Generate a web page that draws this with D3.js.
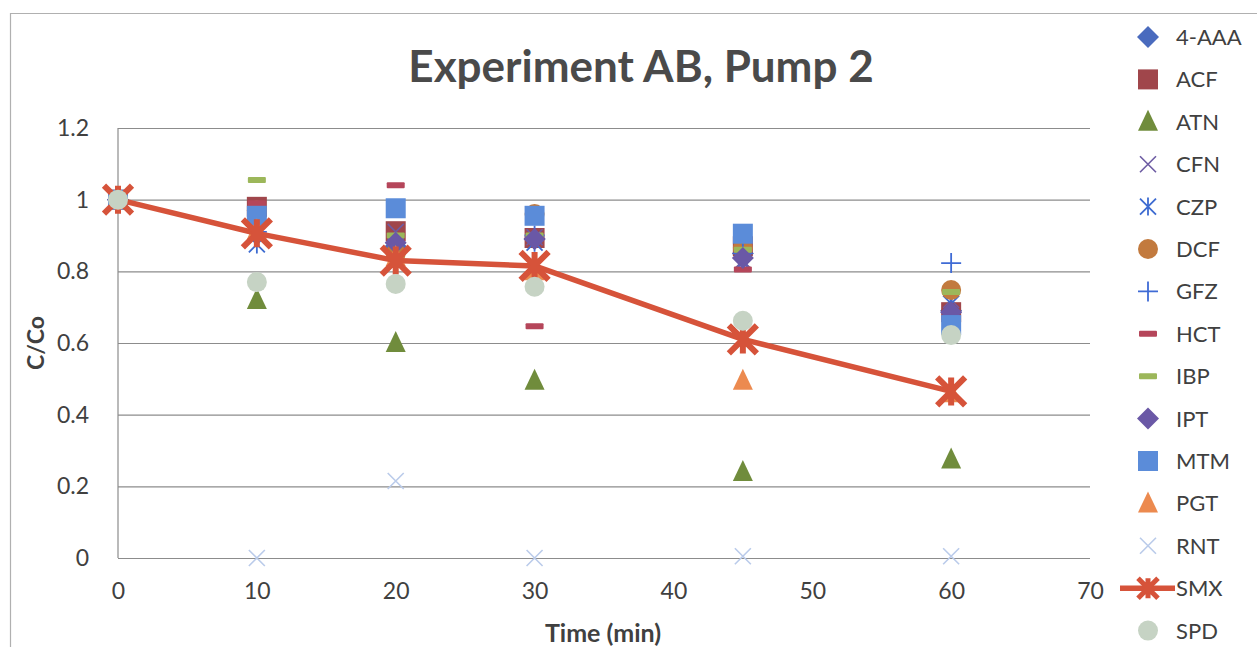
<!DOCTYPE html>
<html>
<head>
<meta charset="utf-8">
<script src="https://cdn.jsdelivr.net/npm/d3@7"></script>
<style>
  html, body { margin: 0; padding: 0; background: #fff; }
  svg { display: block; font-family: Lato, "Open Sans", sans-serif; }
</style>
</head>
<body>
<svg id="chart" width="1257" height="647"></svg>
<script>
// Sampling times (min)
const times = [0, 10, 20, 30, 45, 60];

// C/Co for each compound at the sampling times
const aaa4 = [1, 0.93, 0.87, 0.89, 0.85, 0.69];
const acf  = [1, 0.98, 0.912, 0.893, 0.87, 0.686];
const atn  = [1, 0.72, 0.60, 0.495, 0.24, 0.275];
const cfn  = [1, 0.90, 0.91, 0.895, 0.83, 0.72];
const czp  = [1, 0.875, 0.86, 0.88, 0.825, 0.71];
const dcf  = [1, 0.97, 0.85, 0.96, 0.865, 0.748];
const gfz  = [1, 0.91, 0.88, 0.90, 0.85, 0.823];
const hct  = [1, 0.99, 1.04, 0.647, 0.805, 0.67];
const ibp  = [1, 1.055, 0.90, 0.90, 0.86, 0.742];
const ipt  = [1, 0.93, 0.88, 0.89, 0.837, 0.686];
const mtm  = [1, 0.955, 0.976, 0.955, 0.905, 0.65];
const pgt  = [1, 0.915, 0.84, 0.80, 0.495, 0.46];
const rnt  = [1, 0, 0.215, 0, 0.005, 0.005];
const smx  = [1, 0.906, 0.83, 0.815, 0.61, 0.465];
const spd  = [1, 0.77, 0.765, 0.757, 0.662, 0.622];

// Axis ticks
const xTicks = [0, 10, 20, 30, 40, 50, 60, 70];
const yTicks = [0, 0.2, 0.4, 0.6, 0.8, 1, 1.2];
const yTickLabels = ["0", "0.2", "0.4", "0.6", "0.8", "1", "1.2"];

const seriesNames = ["4-AAA", "ACF", "ATN", "CFN", "CZP", "DCF", "GFZ", "HCT",
                     "IBP", "IPT", "MTM", "PGT", "RNT", "SMX", "SPD"];
const seriesValues = [aaa4, acf, atn, cfn, czp, dcf, gfz, hct, ibp, ipt, mtm, pgt, rnt, smx, spd];
const seriesMarkers = ["diamond", "square", "triangle", "cross", "asterisk", "circle", "plus", "dash",
                       "dash", "diamond", "square", "triangle", "cross", "star", "circle"];
const seriesColors = ["#4A6BBE", "#A0464B", "#708C3C", "#6D5CA3", "#3D6BD1", "#C27A3E", "#3F6BD5", "#B5465A",
                      "#9CB75A", "#6A58A6", "#5B8CD9", "#EC8A4F", "#BACBEA", "#D6533A", "#C6D3C4"];

const svg = d3.select("#chart");

const margin = { left: 118, right: 1090, top: 128, bottom: 558 };
const x = d3.scaleLinear().domain([0, 70]).range([margin.left, margin.right]);
const y = d3.scaleLinear().domain([0, 1.2]).range([margin.bottom, margin.top]);

const textColor = "#404040";
const gridColor = "#8c8c8c";
const font = "Lato, 'Open Sans', sans-serif";

// Chart frame
svg.append("path")
  .attr("d", "M10.5,647 L10.5,13.5 L1257,13.5")
  .attr("fill", "none").attr("stroke", "#b0b0b0").attr("stroke-width", 1.2);

// Title
svg.append("text")
  .attr("x", 641).attr("y", 82)
  .attr("text-anchor", "middle")
  .attr("font-size", 44).attr("font-weight", "bold")
  .attr("fill", "#4a4a4a")
  .text("Experiment AB, Pump 2");

// Horizontal gridlines with value labels
const yAxis = d3.axisLeft(y).tickValues(yTicks)
  .tickFormat((d, i) => yTickLabels[i])
  .tickSize(-(margin.right - margin.left)).tickPadding(29);
const gy = svg.append("g").attr("transform", `translate(${margin.left},0)`).call(yAxis);
gy.select(".domain").remove();
gy.selectAll(".tick line").attr("stroke", gridColor).attr("stroke-width", 1.2);
gy.selectAll(".tick text").attr("font-size", 23).attr("fill", textColor)
  .attr("font-family", font);

// Vertical axis line
svg.append("line")
  .attr("x1", margin.left).attr("x2", margin.left)
  .attr("y1", y(1.2)).attr("y2", y(0))
  .attr("stroke", gridColor).attr("stroke-width", 1.2);

// X axis labels
const xAxis = d3.axisBottom(x).tickValues(xTicks).tickSize(0).tickPadding(25);
const gx = svg.append("g").attr("transform", `translate(0,${margin.bottom})`).call(xAxis);
gx.select(".domain").remove();
gx.selectAll(".tick text").attr("font-size", 23).attr("fill", textColor)
  .attr("font-family", font);

// Axis titles
svg.append("text")
  .attr("transform", `translate(44,${(y(0) + y(1.2)) / 2}) rotate(-90)`)
  .attr("text-anchor", "middle")
  .attr("font-size", 23).attr("font-weight", "bold").attr("fill", textColor)
  .text("C/Co");
svg.append("text")
  .attr("x", 603).attr("y", 642)
  .attr("text-anchor", "middle")
  .attr("font-size", 25).attr("font-weight", "bold").attr("fill", textColor)
  .text("Time (min)");

// Marker drawing
function drawMarker(g, type, color) {
  switch (type) {
    case "diamond":
      g.append("path").attr("d", "M0,-11 L11,0 L0,11 L-11,0 Z").attr("fill", color);
      break;
    case "square":
      g.append("rect").attr("x", -10).attr("y", -10).attr("width", 20).attr("height", 20).attr("fill", color);
      break;
    case "triangle":
      g.append("path").attr("d", "M0,-12 L10,9 L-10,9 Z").attr("fill", color);
      break;
    case "circle":
      g.append("circle").attr("r", 10).attr("fill", color);
      break;
    case "cross":
      g.append("path").attr("d", "M-8,-8 L8,8 M-8,8 L8,-8")
        .attr("stroke", color).attr("stroke-width", 1.6).attr("fill", "none");
      break;
    case "asterisk":
      g.append("path").attr("d", "M-8,-8 L8,8 M-8,8 L8,-8 M0,-9 L0,9")
        .attr("stroke", color).attr("stroke-width", 1.8).attr("fill", "none");
      break;
    case "plus":
      g.append("path").attr("d", "M-10,0 L10,0 M0,-10 L0,10")
        .attr("stroke", color).attr("stroke-width", 1.8).attr("fill", "none");
      break;
    case "dash":
      g.append("rect").attr("x", -9).attr("y", -3).attr("width", 18).attr("height", 6)
        .attr("rx", 1).attr("fill", color);
      break;
    case "star":
      g.append("path").attr("d", "M-14,-14 L14,14 M-14,14 L14,-14 M0,-14 L0,14")
        .attr("stroke", color).attr("stroke-width", 6).attr("fill", "none")
        .attr("stroke-linecap", "butt");
      break;
  }
}

// Series, drawn in order so later series sit on top
const plot = svg.append("g");
seriesNames.forEach((name, si) => {
  const vals = seriesValues[si];
  const color = seriesColors[si];
  const pts = times.map((t, i) => [t, vals[i]]);
  if (name === "SMX") {
    plot.append("path")
      .attr("d", d3.line().x(d => x(d[0])).y(d => y(d[1]))(pts))
      .attr("fill", "none").attr("stroke", color).attr("stroke-width", 5.5)
      .attr("stroke-linejoin", "round");
  }
  pts.forEach(p => {
    const g = plot.append("g").attr("transform", `translate(${x(p[0])},${y(p[1])})`);
    drawMarker(g, seriesMarkers[si], color);
  });
});

// Legend
const legend = svg.append("g");
seriesNames.forEach((name, si) => {
  const cy = 37 + si * 42.4;
  const color = seriesColors[si];
  if (name === "SMX") {
    legend.append("line").attr("x1", 1120).attr("x2", 1175).attr("y1", cy).attr("y2", cy)
      .attr("stroke", color).attr("stroke-width", 5.5);
  }
  const g = legend.append("g").attr("transform", `translate(1148,${cy})`);
  if (name === "SMX") {
    g.append("path").attr("d", "M-10,-10 L10,10 M-10,10 L10,-10 M0,-10 L0,10")
      .attr("stroke", color).attr("stroke-width", 5).attr("fill", "none");
  } else {
    drawMarker(g, seriesMarkers[si], color);
  }
  legend.append("text")
    .attr("x", 1176).attr("y", cy + 8)
    .attr("font-size", 22).attr("fill", textColor)
    .text(name);
});
</script>
</body>
</html>
